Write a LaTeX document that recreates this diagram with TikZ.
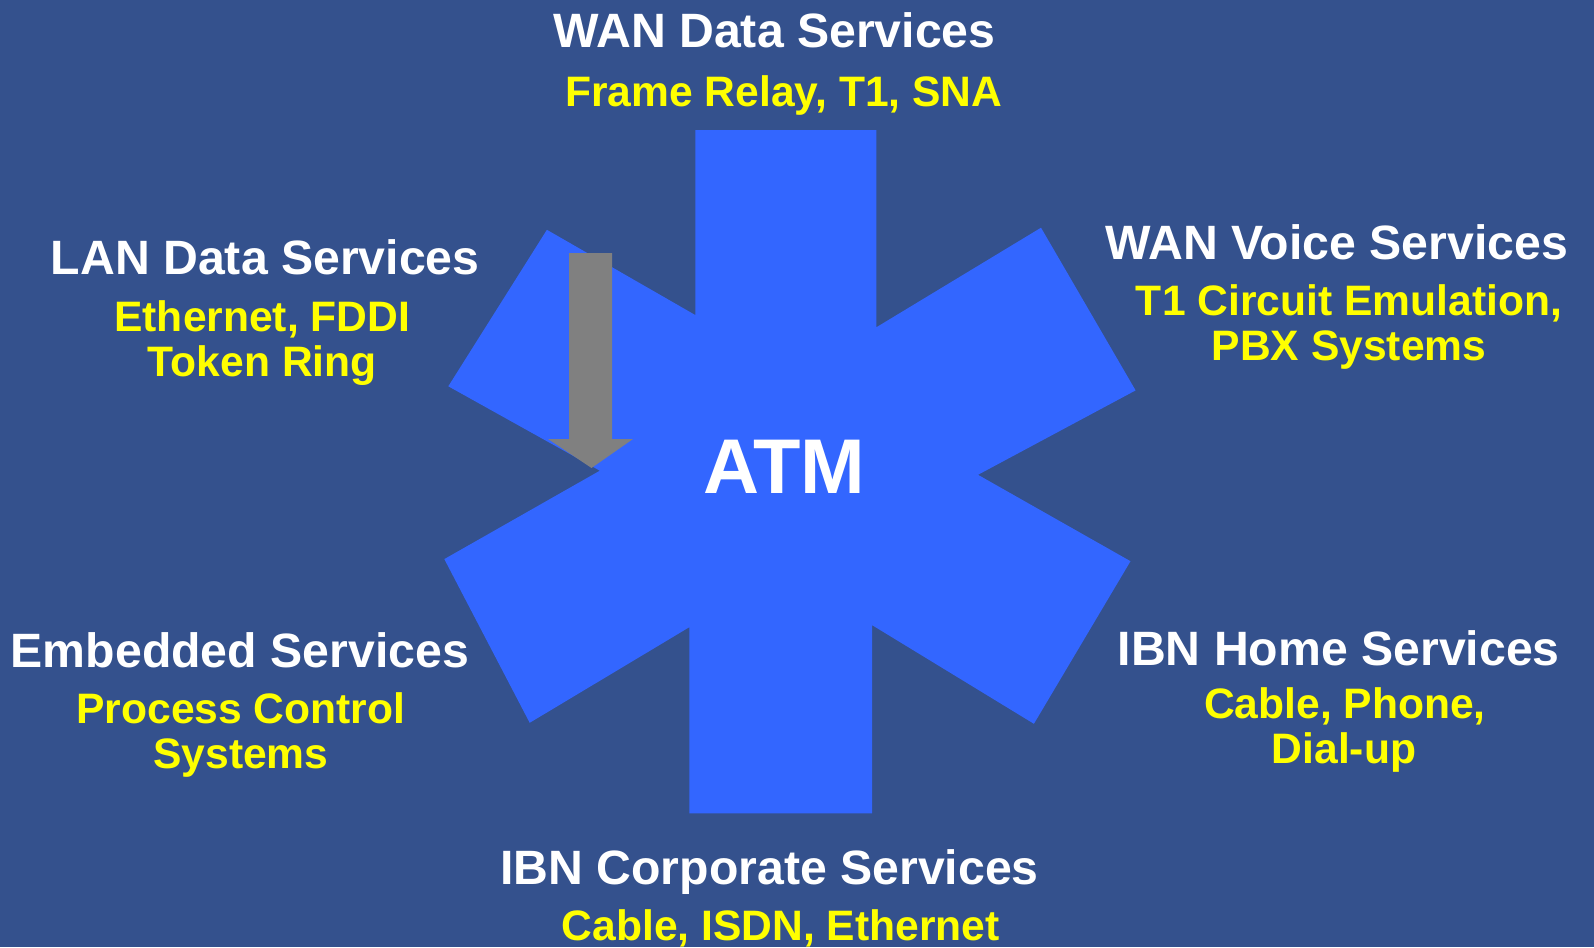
\documentclass[tikz,border=0pt]{standalone}
\usepackage{fontspec}
\setmainfont{Liberation Sans}
\usetikzlibrary{positioning}
\definecolor{bgblue}{HTML}{34518D}
\definecolor{starblue}{HTML}{3366FF}
\definecolor{arrowgray}{HTML}{808080}
\definecolor{svcyellow}{HTML}{FFFF00}

\begin{document}
\begin{tikzpicture}[
  x=0.5pt,
  y=-0.5pt,
  head/.style={anchor=base, text=white, inner sep=0pt, font=\fontsize{24.1}{28}\selectfont\bfseries},
  sub/.style={anchor=base, text=svcyellow, inner sep=0pt, font=\fontsize{21.3}{25}\selectfont\bfseries},
]

% Background
\fill[bgblue] (0,0) rectangle (1594,947);
\useasboundingbox (0,0) rectangle (1594,947);

% Star
\fill[starblue] (695.4,130.1) -- (876.3,130.1) -- (876.3,327.3) -- (1041,227.7)
  -- (1135.6,390.4) -- (978,474.8) -- (1130.5,561.2) -- (1033.9,723.8)
  -- (872.2,625.2) -- (872.2,813.3) -- (689.3,813.3) -- (689.3,627.2)
  -- (529.7,722.8) -- (444.3,559.1) -- (599.8,470.7) -- (448.3,386.3)
  -- (546.9,229.8) -- (695.4,315.1) -- cycle;

% Gray block arrow
\fill[arrowgray] (569,253) -- (612,253) -- (612,439) -- (633,439) -- (591.5,468)
  -- (548,439) -- (569,439) -- cycle;

% Centre label
\node[anchor=base, text=white, inner sep=0pt, font=\fontsize{38.8}{42}\selectfont\bfseries] (atm) at (784.3,493) {ATM};

% Top
\node[head] (wandata) at (774.6,47.8) {WAN Data Services};
\node[sub] (wandataA) at (783.8,106.7) {Frame Relay, T1, SNA};

% Upper left
\node[head] (lan) at (265.3,274.5) {LAN Data Services};
\node[sub] (lanA) at (262.3,331.4) {Ethernet, FDDI};
\node[sub] (lanB) at (262.3,376.4) {Token Ring};

% Upper right
\node[head] (wanvoice) at (1336.8,259.2) {WAN Voice Services};
\node[sub] (wanvoiceA) at (1349,315.1) {T1 Circuit Emulation,};
\node[sub] (wanvoiceB) at (1349,360.1) {PBX Systems};

% Lower left
\node[head] (embedded) at (239.9,667.9) {Embedded Services};
\node[sub] (embeddedA) at (240.9,723.8) {Process Control};
\node[sub] (embeddedB) at (240.9,768.8) {Systems};

% Lower right
\node[head] (home) at (1338.8,665.9) {IBN Home Services};
\node[sub] (homeA) at (1344.9,718.7) {Cable, Phone,};
\node[sub] (homeB) at (1343.9,763.7) {Dial-up};

% Bottom
\node[head] (corp) at (769.6,884.4) {IBN Corporate Services};
\node[sub] (corpA) at (780.8,940.4) {Cable, ISDN, Ethernet};

\end{tikzpicture}
\end{document}
